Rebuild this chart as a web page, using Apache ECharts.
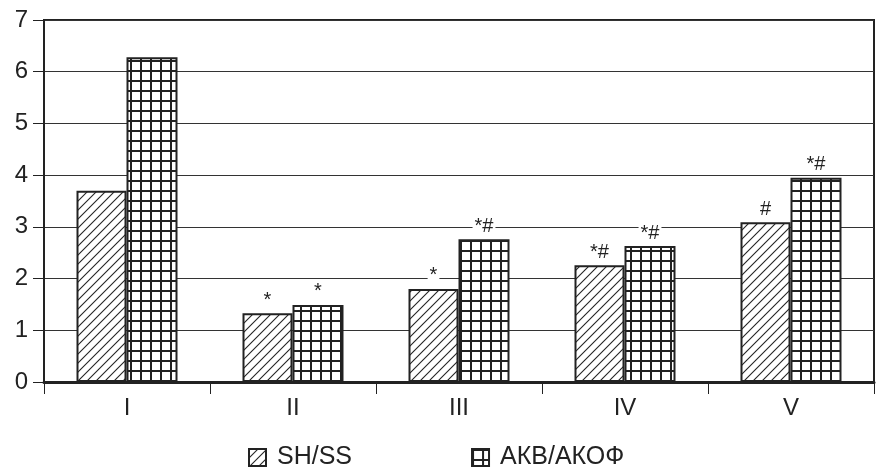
<!DOCTYPE html>
<html><head><meta charset="utf-8">
<script src="https://cdn.jsdelivr.net/npm/echarts@6/dist/echarts.min.js"></script>
<style>html,body{margin:0;padding:0;background:#fff}#c{width:879px;height:471px}</style>
</head><body><div id="c"></div>
<script>
const categories = ['I', 'II', 'III', 'IV', 'V'];
const seriesNames = ['SH/SS', 'АКВ/АКОФ'];
const shValues = [3.70, 1.33, 1.80, 2.26, 3.09];
const akbValues = [6.28, 1.49, 2.76, 2.63, 3.95];
const shMarks = ['', '*', '*', '*#', '#'];
const akbMarks = ['', '*', '*#', '*#', '*#'];
const yMin = 0, yMax = 7, yStep = 1;

function hatchPattern() {
  const s = 9, c = document.createElement('canvas');
  c.width = s; c.height = s;
  const x = c.getContext('2d');
  x.fillStyle = '#fff'; x.fillRect(0, 0, s, s);
  x.strokeStyle = '#222'; x.lineWidth = 1.1;
  for (const o of [-s, 0, s]) {
    x.beginPath(); x.moveTo(o - 1, s + 1); x.lineTo(o + s + 1, -1); x.stroke();
  }
  return c;
}
function gridPattern() {
  const s = 10, c = document.createElement('canvas');
  c.width = s; c.height = s;
  const x = c.getContext('2d');
  x.fillStyle = '#fff'; x.fillRect(0, 0, s, s);
  x.fillStyle = '#222';
  x.fillRect(0, 0, 2, s);
  x.fillRect(0, 0, s, 2);
  return c;
}

const chart = echarts.init(document.getElementById('c'));
const labelCfg = (marks) => ({
  show: true, position: 'top', distance: 3,
  formatter: p => marks[p.dataIndex],
  color: '#222', fontFamily: 'Liberation Sans', fontSize: 20,
  backgroundColor: '#fff', padding: [0, 2]
});
chart.setOption({
  animation: false,
  backgroundColor: '#fff',
  grid: { left: 44, right: 5, top: 20, bottom: 89, show: true, borderColor: '#222', borderWidth: 2 },
  legend: {
    left: 248, top: 445, padding: 0, itemWidth: 17, itemHeight: 17, itemGap: 119,
    icon: 'rect',
    textStyle: { fontFamily: 'Liberation Sans', fontSize: 25, color: '#222', padding: [0, 0, 0, 6] },
    data: seriesNames
  },
  xAxis: {
    type: 'category', data: categories,
    axisLine: { lineStyle: { color: '#222', width: 3 } },
    axisTick: { show: true, length: 12, lineStyle: { color: '#222', width: 1 } },
    axisLabel: { fontFamily: 'Liberation Sans', fontSize: 24, color: '#222', margin: 14 }
  },
  yAxis: {
    type: 'value', min: yMin, max: yMax, interval: yStep,
    axisLine: { show: true, lineStyle: { color: '#222', width: 2 } },
    axisTick: { show: true, length: 11, lineStyle: { color: '#222', width: 1 } },
    axisLabel: { fontFamily: 'Liberation Sans', fontSize: 24, color: '#222', margin: 16 },
    splitLine: { lineStyle: { color: '#333', width: 1 } }
  },
  series: [
    {
      name: seriesNames[0], type: 'bar', data: shValues, barWidth: 50, barGap: '0%',
      itemStyle: { color: { image: hatchPattern(), repeat: 'repeat' }, borderColor: '#222', borderWidth: 2 },
      label: labelCfg(shMarks)
    },
    {
      name: seriesNames[1], type: 'bar', data: akbValues, barWidth: 51, barGap: '0%',
      itemStyle: { color: { image: gridPattern(), repeat: 'repeat' }, borderColor: '#222', borderWidth: 2 },
      label: labelCfg(akbMarks)
    }
  ]
});
</script></body></html>
